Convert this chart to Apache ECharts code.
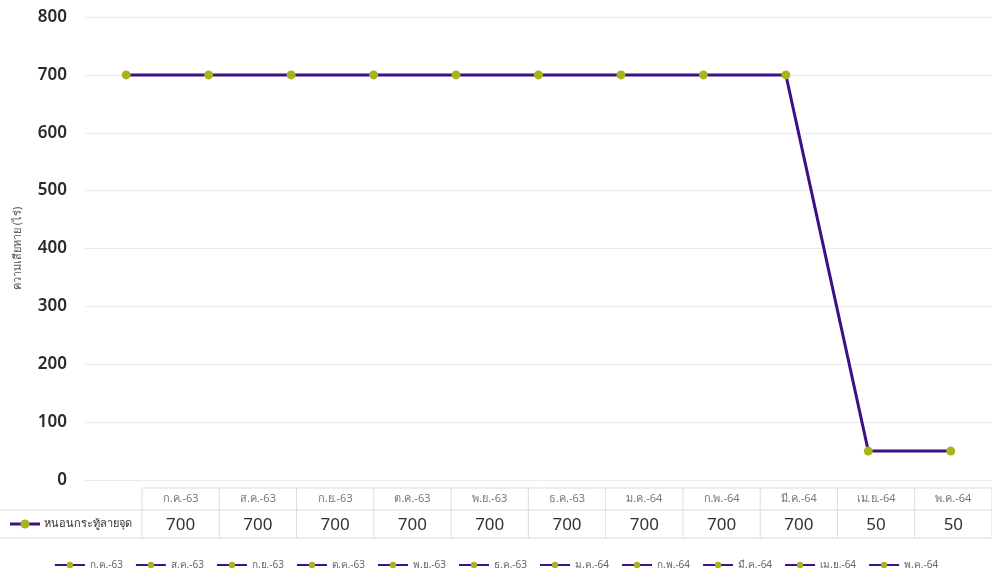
<!DOCTYPE html>
<html>
<head>
<meta charset="utf-8">
<script src="https://cdn.jsdelivr.net/npm/echarts@6/dist/echarts.min.js"></script>
<style>
  html, body { margin: 0; padding: 0; background: #fff; }
  #chart { width: 992px; height: 581px; }
</style>
</head>
<body>
<div id="chart"></div>
<script>
// ข้อมูล
var categories = ["ก.ค.-63", "ส.ค.-63", "ก.ย.-63", "ต.ค.-63", "พ.ย.-63", "ธ.ค.-63", "ม.ค.-64", "ก.พ.-64", "มี.ค.-64", "เม.ย.-64", "พ.ค.-64"];
var seriesName = "หนอนกระทู้ลายจุด";
var damage = [700, 700, 700, 700, 700, 700, 700, 700, 700, 50, 50];
var yTicks = [0, 100, 200, 300, 400, 500, 600, 700, 800];

var lineColor = "#3f0f87";
var dotColor = "#a9b41c";
var font = "'Noto Sans', 'Open Sans', sans-serif";

var myChart = echarts.init(document.getElementById("chart"));

// ตารางข้อมูลใต้กราฟ
var tblLeft = 142, tblRight = 992, rowTop = 488, rowMid = 510, rowBot = 538;
var colW = (tblRight - tblLeft) / categories.length;
var graphics = [];
var border = { stroke: "#dcdcdc", lineWidth: 1 };
graphics.push({ type: "line", shape: { x1: tblLeft, y1: rowTop, x2: tblRight, y2: rowTop }, style: border, silent: true });
graphics.push({ type: "line", shape: { x1: 0, y1: rowMid, x2: tblRight, y2: rowMid }, style: border, silent: true });
graphics.push({ type: "line", shape: { x1: 0, y1: rowBot, x2: tblRight, y2: rowBot }, style: border, silent: true });
for (var i = 0; i <= categories.length; i++) {
  var x = tblLeft + colW * i;
  graphics.push({ type: "line", shape: { x1: x, y1: rowTop, x2: x, y2: rowBot }, style: border, silent: true });
}
for (var j = 0; j < categories.length; j++) {
  var cx = tblLeft + colW * j + colW / 2;
  graphics.push({
    type: "text", x: cx, y: (rowTop + rowMid) / 2, silent: true,
    style: { text: categories[j], fill: "#777", font: "11px " + font, align: "center", verticalAlign: "middle" }
  });
  graphics.push({
    type: "text", x: cx, y: (rowMid + rowBot) / 2 + 1, silent: true,
    style: { text: String(damage[j]), fill: "#333", font: "17px " + font, align: "center", verticalAlign: "middle" }
  });
}
// ป้ายชื่อซีรีส์ในตาราง
graphics.push({ type: "line", shape: { x1: 10, y1: 524, x2: 40, y2: 524 }, style: { stroke: lineColor, lineWidth: 3 }, silent: true });
graphics.push({ type: "circle", shape: { cx: 25, cy: 524, r: 4.5 }, style: { fill: dotColor }, silent: true });
graphics.push({
  type: "text", x: 44, y: 524, silent: true,
  style: { text: seriesName, fill: "#333", font: "11px " + font, verticalAlign: "middle" }
});

// ซีรีส์สำหรับคำอธิบายด้านล่าง
var legendSeries = categories.map(function (c) {
  return {
    name: c, type: "line", data: [], symbol: "circle", symbolSize: 8,
    lineStyle: { color: lineColor, width: 3 }, itemStyle: { color: dotColor }
  };
});

myChart.setOption({
  animation: false,
  textStyle: { fontFamily: font },
  grid: { left: 85, right: -5, top: 17, bottom: 101 },
  legend: {
    data: categories,
    bottom: 6,
    left: "center",
    itemWidth: 30,
    itemHeight: 8,
    itemGap: 12,
    textStyle: { color: "#666", fontSize: 10 }
  },
  graphic: graphics,
  xAxis: {
    type: "category",
    data: categories,
    boundaryGap: true,
    axisLine: { show: false },
    axisTick: { show: false },
    axisLabel: { show: false }
  },
  yAxis: {
    type: "value",
    min: yTicks[0],
    max: yTicks[yTicks.length - 1],
    interval: 100,
    name: "ความเสียหาย (ไร่)",
    nameLocation: "middle",
    nameGap: 62,
    nameTextStyle: { color: "#555", fontSize: 11 },
    axisLine: { show: false },
    axisTick: { show: false },
    axisLabel: { color: "#2a2a2a", fontSize: 17, fontWeight: 600, margin: 18 },
    splitLine: { lineStyle: { color: "#ebebeb" } }
  },
  series: [
    {
      name: seriesName,
      type: "line",
      data: damage,
      symbol: "circle",
      symbolSize: 9,
      lineStyle: { color: lineColor, width: 3 },
      itemStyle: { color: dotColor }
    }
  ].concat(legendSeries)
});
</script>
</body>
</html>
